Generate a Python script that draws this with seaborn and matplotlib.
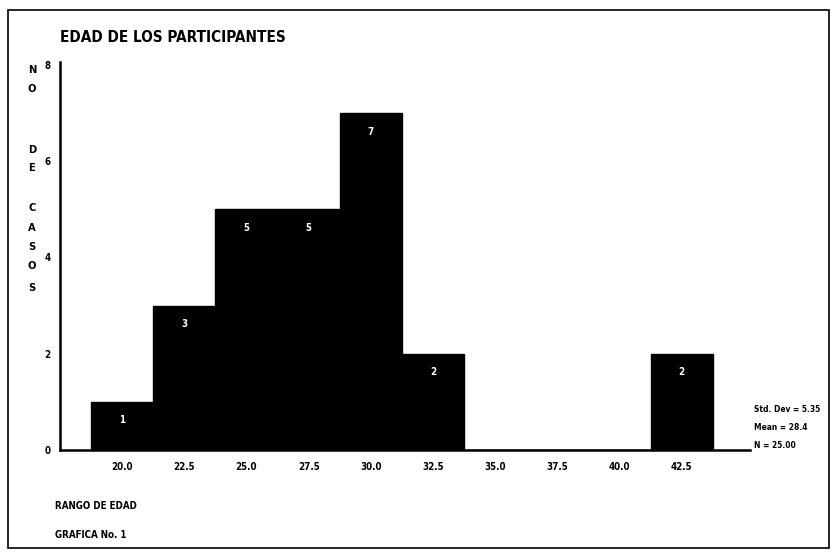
import matplotlib
matplotlib.use("Agg")
import matplotlib.pyplot as plt
import seaborn as sns
import pandas as pd
from matplotlib.patches import Rectangle

# Datos del histograma: punto medio de cada rango de edad y numero de casos
edades = ["20.0", "22.5", "25.0", "27.5", "30.0", "32.5", "35.0", "37.5", "40.0", "42.5"]
casos = [1, 3, 5, 5, 7, 2, 0, 0, 0, 2]
marcas_y = [0, 2, 4, 6, 8]
estadisticos = ["Std. Dev = 5.35", "Mean = 28.4", "N = 25.00"]

titulo = "EDAD DE LOS PARTICIPANTES"
etiqueta_x = "RANGO DE EDAD"
pie = "GRAFICA No. 1"
etiqueta_y = ["N", "O", "D", "E", "C", "A", "S", "O", "S"]

sns.set_theme(style="white")
plt.rcParams["font.family"] = ["DejaVu Sans"]
plt.rcParams["font.weight"] = "bold"
plt.rcParams["font.stretch"] = "condensed"

W, H = 833, 556
fig = plt.figure(figsize=(W / 100, H / 100), dpi=100)
fig.patch.set_facecolor("white")

def fx(px):
    return px / W

def fy(py):
    return 1 - py / H

ax = fig.add_axes([fx(60), fy(450), fx(750) - fx(60), fy(62) - fy(450)])
df = pd.DataFrame({"edad": edades, "casos": casos})
sns.barplot(data=df, x="edad", y="casos", order=edades, color="black",
            width=1.0, saturation=1, edgecolor="black", linewidth=1, ax=ax)

ax.set_xlim(-1, 10.1)
ax.set_ylim(0, 8.06)
ax.set_yticks(marcas_y)
ax.set_yticklabels([str(v) for v in marcas_y])
ax.set_xlabel("")
ax.set_ylabel("")
for s in ["top", "right"]:
    ax.spines[s].set_visible(False)
for s in ["left", "bottom"]:
    ax.spines[s].set_color("black")
    ax.spines[s].set_linewidth(1.8)
ax.tick_params(axis="both", which="both", direction="out", length=3, width=1.2,
               colors="black", labelsize=7, pad=4)
ax.tick_params(axis="x", pad=6)
for lab in ax.get_xticklabels() + ax.get_yticklabels():
    lab.set_fontweight("bold")
    lab.set_fontstretch("condensed")

# Numero de casos sobre cada barra, en blanco dentro de la barra
ax.bar_label(ax.containers[0], labels=[str(c) if c > 0 else "" for c in casos],
             label_type="edge", padding=-17, color="white", fontsize=7,
             fontweight="bold")

fig.text(fx(60), fy(37), titulo, ha="left", va="center", fontsize=11,
         fontweight="bold", fontstretch="condensed", color="black")

posiciones_y = [70, 89, 150, 168, 208, 228, 247, 266, 288]
for letra, py in zip(etiqueta_y, posiciones_y):
    fig.text(fx(32), fy(py), letra, ha="center", va="center", fontsize=8,
             fontweight="bold", color="black")

for linea, py in zip(estadisticos, [410, 428, 446]):
    fig.text(fx(754), fy(py), linea, ha="left", va="center", fontsize=6,
             fontweight="bold", fontstretch="condensed", color="black")

fig.text(fx(55), fy(506), etiqueta_x, ha="left", va="center", fontsize=7,
         fontweight="bold", fontstretch="condensed", color="black")
fig.text(fx(55), fy(535), pie, ha="left", va="center", fontsize=7,
         fontweight="bold", fontstretch="condensed", color="black")

fig.patches.append(Rectangle((fx(8), fy(548)), fx(829) - fx(8), fy(10) - fy(548),
                             transform=fig.transFigure, fill=False,
                             edgecolor="black", linewidth=1.2))

fig.savefig("out.png", dpi=100, facecolor="white")
